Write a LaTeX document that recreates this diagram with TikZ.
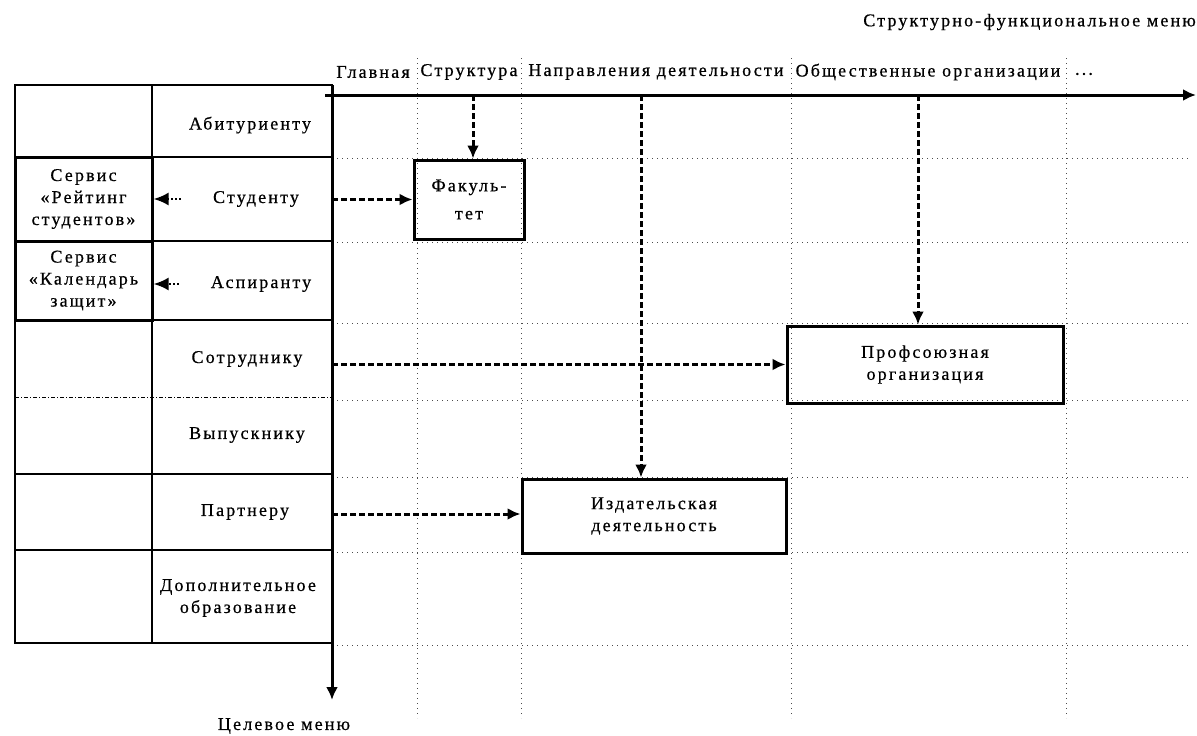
\documentclass[tikz,border=0pt]{standalone}
\usepackage{fontspec}
\setmainfont{Liberation Serif}
\newfontfamily\lsfont[LetterSpace=12,FakeBold=0.6]{Liberation Serif}
\usetikzlibrary{arrows.meta}
\begin{document}
\begin{tikzpicture}[x=1pt,y=-1pt,
  lbl/.style={font=\lsfont\fontsize{18}{22}\selectfont, inner sep=0pt, align=center},
  tline/.style={line width=1.8pt},
  sbox/.style={draw, line width=3pt, minimum width=137pt, lbl},
  bbox/.style={draw, line width=3pt, lbl},
  darr/.style={line width=3pt, dash pattern=on 6pt off 3pt, -{Latex[length=13pt,width=12pt]}},
  larr/.style={line width=2.5pt, dash pattern=on 2pt off 2pt, -{Latex[length=15pt,width=13pt]}},
  gridl/.style={line width=0.8pt, dash pattern=on 1pt off 4pt, black!70},
  axisl/.style={line width=3pt, -{Latex[length=13pt,width=12pt]}},
]
\useasboundingbox (0,0) rectangle (1197,736);

% dotted grid
\foreach \yy in {158,242,323,400,477,552,645} {\draw[gridl] (332,\yy) -- (1190,\yy);}
\foreach \xx in {417,521,791,1066} {\draw[gridl] (\xx,58) -- (\xx,718);}

% title and header
\node[lbl, anchor=east] (title) at (1196,22) {Структурно-функциональное меню};
\node[lbl] (h1) at (373,72) {Главная};
\node[lbl] (h2) at (469,72) {Структура};
\node[lbl] (h3) at (656,72) {Направления деятельности};
\node[lbl] (h4) at (928,72) {Общественные организации};
\node[lbl] (h5) at (1084,74) {...};

% table
\draw[tline] (15,85) rectangle (332,643);
\draw[tline] (152,85) -- (152,643);
\foreach \yy in {157,241,320,474,550} {\draw[tline] (15,\yy) -- (332,\yy);}
\draw[line width=1pt, dash pattern=on 4pt off 2pt on 1pt off 2pt] (15,397) -- (332,397);

\node[sbox, minimum height=84pt] (rs) at (83.5,199) {Сервис\\«Рейтинг\\студентов»};
\node[sbox, minimum height=79pt] (kz) at (83.5,280.5) {Сервис\\«Календарь\\защит»};

\node[lbl] (abit) at (250,125) {Абитуриенту};
\node[lbl] (stud) at (256,199) {Студенту};
\node[lbl] (asp) at (261,284) {Аспиранту};
\node[lbl] (sotr) at (247,359) {Сотруднику};
\node[lbl] (vyp) at (247,435) {Выпускнику};
\node[lbl] (part) at (245,512) {Партнеру};
\node[lbl] (dop) at (238,598) {Дополнительное\\образование};

% axes
\coordinate (ax0) at (325,95);
\coordinate (ax1) at (1196,95);
\coordinate (vt) at (332,85);
\coordinate (vb) at (332,700);
\draw[axisl] (ax0) -- (ax1);
\draw[axisl] (vt) -- (vb);
\node[lbl] (cel) at (284,726) {Целевое меню};

% boxes
\node[bbox, minimum width=110pt, minimum height=79pt, font=\lsfont\fontsize{18}{28}\selectfont] (fac) at (469,199.5) {Факуль-\\тет};
\node[bbox, minimum width=276pt, minimum height=77pt] (prof) at (925,364.5) {Профсоюзная\\организация};
\node[bbox, minimum width=264pt, minimum height=74pt] (izd) at (654,516) {Издательская\\деятельность};

% connectors
\draw[larr] ([xshift=-32pt]stud.west) -- (stud.west -| rs.east);
\draw[larr] ([xshift=-32pt]asp.west) -- (asp.west -| kz.east);
\draw[darr] (fac.west -| vt) -- (fac.west);
\draw[darr] (prof.west -| vt) -- (prof.west);
\draw[darr] ([yshift=2pt]izd.west -| vt) -- ([yshift=2pt]izd.west);
\draw[darr] ([xshift=4pt]fac.north |- ax0) -- ([xshift=4pt]fac.north);
\draw[darr] ([xshift=-13pt]izd.north |- ax0) -- ([xshift=-13pt]izd.north);
\draw[darr] ([xshift=-7pt]prof.north |- ax0) -- ([xshift=-7pt]prof.north);
\end{tikzpicture}
\end{document}
